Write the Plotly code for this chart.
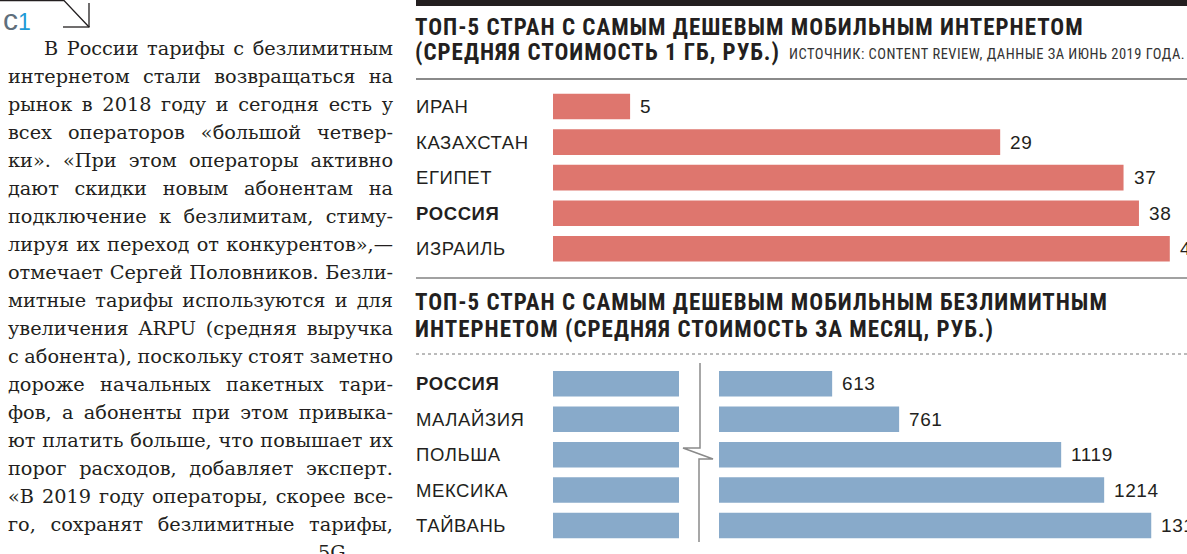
import plotly.graph_objects as go

# ---------------- data ----------------
countries_gb = ["ИРАН", "КАЗАХСТАН", "ЕГИПЕТ", "РОССИЯ", "ИЗРАИЛЬ"]
price_gb = [5, 29, 37, 38, 40]

countries_unlim = ["РОССИЯ", "МАЛАЙЗИЯ", "ПОЛЬША", "МЕКСИКА", "ТАЙВАНЬ"]
price_unlim = [613, 761, 1119, 1214, 1318]

title_gb = ["ТОП-5 СТРАН С САМЫМ ДЕШЕВЫМ МОБИЛЬНЫМ ИНТЕРНЕТОМ",
            "(СРЕДНЯЯ СТОИМОСТЬ 1 ГБ, РУБ.)"]
source_gb = "ИСТОЧНИК: CONTENT REVIEW, ДАННЫЕ ЗА ИЮНЬ 2019 ГОДА."
title_unlim = ["ТОП-5 СТРАН С САМЫМ ДЕШЕВЫМ МОБИЛЬНЫМ БЕЗЛИМИТНЫМ",
               "ИНТЕРНЕТОМ (СРЕДНЯЯ СТОИМОСТЬ ЗА МЕСЯЦ, РУБ.)"]

body_lines = [
    "В России тарифы с безлимитным",
    "интернетом стали возвращаться на",
    "рынок в 2018 году и сегодня есть у",
    "всех операторов «большой четвер-",
    "ки». «При этом операторы активно",
    "дают скидки новым абонентам на",
    "подключение к безлимитам, стиму-",
    "лируя их переход от конкурентов»,—",
    "отмечает Сергей Половников. Безли-",
    "митные тарифы используются и для",
    "увеличения ARPU (средняя выручка",
    "с абонента), поскольку стоят заметно",
    "дороже начальных пакетных тари-",
    "фов, а абоненты при этом привыка-",
    "ют платить больше, что повышает их",
    "порог расходов, добавляет эксперт.",
    "«В 2019 году операторы, скорее все-",
    "го, сохранят безлимитные тарифы,",
]
body_tail = "5G"

# ---------------- helpers ----------------
W, H = 1187, 554
def px(x):
    return x / W
def py(y):
    return 1 - y / H

RED = "#de766e"
BLUE = "#88aaca"
TXT = "#231f20"
SANS = "Liberation Sans, Arial, sans-serif"
NARROW = "Roboto Condensed, Liberation Sans Narrow, DejaVu Sans Condensed, Arial Narrow, sans-serif"
SERIF = "DejaVu Serif, serif"

def spaced(t, ls):
    return f"<span style='letter-spacing:{ls}px'>{t}</span>"

fig = go.Figure()

fig.add_trace(go.Bar(x=price_gb, y=countries_gb, orientation="h", width=0.72,
                     marker=dict(color=RED, line=dict(width=0)),
                     xaxis="x", yaxis="y", hoverinfo="skip"))
fig.add_trace(go.Bar(x=price_unlim, y=countries_unlim, orientation="h", width=0.72,
                     marker=dict(color=BLUE, line=dict(width=0)),
                     xaxis="x2", yaxis="y2", hoverinfo="skip"))
fig.add_trace(go.Bar(x=price_unlim, y=countries_unlim, orientation="h", width=0.72,
                     marker=dict(color=BLUE, line=dict(width=0)),
                     xaxis="x3", yaxis="y2", hoverinfo="skip"))

hidden = dict(visible=False, showgrid=False, zeroline=False, fixedrange=True)

fig.update_layout(
    width=W, height=H,
    margin=dict(l=0, r=0, t=0, b=0),
    paper_bgcolor="white", plot_bgcolor="rgba(0,0,0,0)",
    showlegend=False, barmode="overlay",
    xaxis=dict(domain=[px(553), 1], range=[0, 634 / 15.42], anchor="y", **hidden),
    yaxis=dict(domain=[py(266.6), py(88.7)], type="category",
               categoryorder="array", categoryarray=countries_gb,
               range=[4.5, -0.5], anchor="x", **hidden),
    xaxis2=dict(domain=[px(553), px(679)], range=[0, 278], anchor="y2", **hidden),
    xaxis3=dict(domain=[px(719), 1], range=[363, 1397], anchor="y2", **hidden),
    yaxis2=dict(domain=[py(543.2), py(366.1)], type="category",
                categoryorder="array", categoryarray=countries_unlim,
                range=[4.5, -0.5], anchor="x2", **hidden),
)

ann = []
LABEL_FONT = dict(family=SANS, size=18.5, color=TXT)
VALUE_FONT = dict(family=SANS, size=19, color=TXT)
for c, v in zip(countries_gb, price_gb):
    label = f"<b>{c}</b>" if c == "РОССИЯ" else c
    ann.append(dict(x=px(414), y=c, xref="paper", yref="y", text=spaced(label, 0.6),
                    xanchor="left", yanchor="middle", showarrow=False, font=LABEL_FONT))
    ann.append(dict(x=v, y=c, xref="x", yref="y", text=spaced(str(v), 0.6), xshift=8,
                    xanchor="left", yanchor="middle", showarrow=False, font=VALUE_FONT))
for c, v in zip(countries_unlim, price_unlim):
    label = f"<b>{c}</b>" if c == "РОССИЯ" else c
    ann.append(dict(x=px(414), y=c, xref="paper", yref="y2", text=spaced(label, 0.6),
                    xanchor="left", yanchor="middle", showarrow=False, font=LABEL_FONT))
    ann.append(dict(x=v, y=c, xref="x3", yref="y2", text=spaced(str(v), 0.6), xshift=8,
                    xanchor="left", yanchor="middle", showarrow=False, font=VALUE_FONT))

TITLE_FONT = dict(family=NARROW, size=23, color=TXT, weight="bold")
for txt, yy in [(title_gb[0], 27.5), (title_gb[1], 52.5),
                (title_unlim[0], 302), (title_unlim[1], 329)]:
    ann.append(dict(x=px(413), y=py(yy), xref="paper", yref="paper", text=spaced(txt, 1.0),
                    xanchor="left", yanchor="middle", showarrow=False, font=TITLE_FONT))
ann.append(dict(x=px(787), y=py(54), xref="paper", yref="paper", text=spaced(source_gb, 0.5),
                xanchor="left", yanchor="middle", showarrow=False,
                font=dict(family=NARROW, size=14.5, color="#333333")))

ann.append(dict(x=px(1), y=py(19), xref="paper", yref="paper",
                text="<span style='color:#5f6f7c;font-size:30px'>с</span>"
                     "<span style='color:#1f9ad6'>1</span>",
                xanchor="left", yanchor="middle", showarrow=False,
                font=dict(family=SANS, size=23, color="#1f9ad6")))

BODY_SIZE = 19.3
for i, line in enumerate(body_lines):
    x0 = 42 if i == 0 else 6
    ann.append(dict(x=px(x0), y=py(48.5 + i * 28), xref="paper", yref="paper", text=line,
                    xanchor="left", yanchor="middle", align="left", showarrow=False,
                    font=dict(family=SERIF, size=BODY_SIZE, color=TXT)))
ann.append(dict(x=px(316), y=py(48.5 + len(body_lines) * 28), xref="paper", yref="paper",
                text=body_tail, xanchor="left", yanchor="middle", align="left", showarrow=False,
                font=dict(family=SERIF, size=BODY_SIZE, color=TXT)))

fig.update_layout(annotations=ann)

shapes = []
shapes.append(dict(type="rect", xref="paper", yref="paper", x0=px(416), x1=1,
                   y0=py(6), y1=1, fillcolor=TXT, line=dict(width=0)))
shapes.append(dict(type="line", xref="paper", yref="paper", x0=px(416), x1=1,
                   y0=py(79), y1=py(79), line=dict(color="#8a8a8a", width=2)))
shapes.append(dict(type="line", xref="paper", yref="paper", x0=px(416), x1=1,
                   y0=py(278), y1=py(278), line=dict(color="#444444", width=1.2)))
shapes.append(dict(type="line", xref="paper", yref="paper", x0=px(416), x1=1,
                   y0=py(354), y1=py(354), line=dict(color="#777777", width=1, dash="dot")))
brk = [(700, 363), (700, 448), (683, 448), (713, 459), (699, 459), (699, 542)]
shapes.append(dict(type="path", xref="paper", yref="paper",
                   path="M " + " L ".join(f"{px(x)},{py(y)}" for x, y in brk),
                   line=dict(color="#8a8a8a", width=1.5)))
corner = [(0, 0.5), (64, 0.5), (89, 27)]
shapes.append(dict(type="path", xref="paper", yref="paper",
                   path="M " + " L ".join(f"{px(x)},{py(y)}" for x, y in corner),
                   line=dict(color=TXT, width=1.3)))
shapes.append(dict(type="line", xref="paper", yref="paper", x0=px(89), x1=px(89),
                   y0=py(3), y1=py(27), line=dict(color=TXT, width=1.3)))
shapes.append(dict(type="line", xref="paper", yref="paper", x0=px(63), x1=px(89.6),
                   y0=py(27), y1=py(27), line=dict(color=TXT, width=1.3)))
fig.update_layout(shapes=shapes)

justify_js = """
document.body.style.margin='0';
var RIGHT = 393;
document.querySelectorAll('text.annotation-text').forEach(function(t){
  var ff = (t.style.fontFamily || t.getAttribute('style') || '');
  if (ff.indexOf('Serif') < 0) return;
  var txt = t.textContent;
  var n = (txt.match(/ /g) || []).length;
  if (!n) return;
  var left = t.getBoundingClientRect().left;
  var nat = t.getComputedTextLength();
  var extra = RIGHT - left - nat;
  var ws = extra / n;
  if (ws < -1.5) {
    // too long: squeeze letters slightly instead of merging words
    t.style.letterSpacing = (extra / (txt.length - 1)) + 'px';
    return;
  }
  t.style.wordSpacing = ws + 'px';
  var now = t.getComputedTextLength();
  if (Math.abs(now - nat) < 0.5 && Math.abs(ws) > 0.3) {
    t.style.wordSpacing = '';
    t.style.letterSpacing = (extra / (txt.length - 1)) + 'px';
  }
});
"""

fig.write_html("out.html", config={"displayModeBar": False}, post_script=justify_js)
